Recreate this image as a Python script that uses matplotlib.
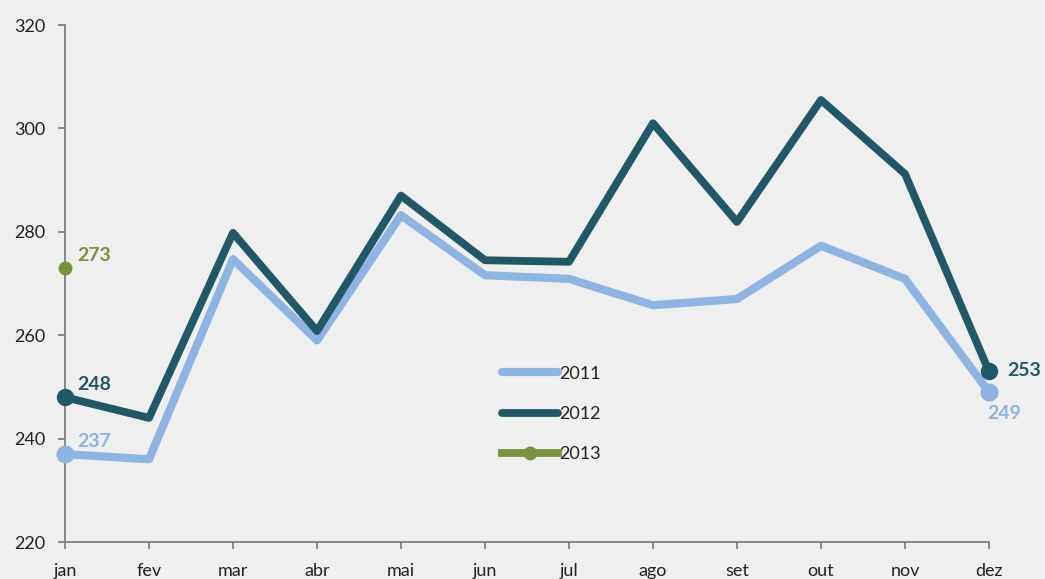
import numpy as np
import matplotlib.pyplot as plt

# --- data ---
months = ["jan", "fev", "mar", "abr", "mai", "jun", "jul", "ago", "set", "out", "nov", "dez"]
v2011 = [237, 236, 274.7, 259, 283.2, 271.6, 270.9, 265.8, 267, 277.3, 270.9, 249]
v2012 = [248, 244, 279.8, 260.8, 287, 274.5, 274.2, 301, 281.9, 305.5, 291.2, 253]
v2013 = [273]

c2011 = "#8DB4E2"
c2012 = "#215868"
c2013 = "#77933C"
bg = "#efefef"

plt.rcParams['font.family'] = ['Lato', 'DejaVu Sans']

fig = plt.figure(figsize=(10.45, 5.79), dpi=100, facecolor=bg)
ax = fig.add_axes([0.0622, 0.0639, 0.8842, 0.8929])
ax.set_facecolor(bg)

x = np.arange(len(months))

ax.plot(x, v2011, color=c2011, lw=5.9, solid_capstyle='round', solid_joinstyle='round',
        label="2011", zorder=3, clip_on=False)
ax.plot(x, v2012, color=c2012, lw=5.6, solid_capstyle='round', solid_joinstyle='round',
        label="2012", zorder=4, clip_on=False)
ax.plot(x[:len(v2013)], v2013, color=c2013, lw=5.6, marker='o', ms=9, label="2013",
        zorder=5, clip_on=False)

# end point markers
ax.plot([x[0], x[-1]], [v2011[0], v2011[-1]], 'o', color=c2011, ms=12, zorder=3, clip_on=False)
ax.plot([x[0], x[-1]], [v2012[0], v2012[-1]], 'o', color=c2012, ms=11.5, zorder=4, clip_on=False)

# data labels
lab = dict(fontsize=14, fontweight='bold')
ax.annotate(f"{v2011[0]:.0f}", (x[0], v2011[0]), xytext=(9, 3), textcoords='offset points',
            color=c2011, ha='left', va='bottom', **lab)
ax.annotate(f"{v2012[0]:.0f}", (x[0], v2012[0]), xytext=(9, 3), textcoords='offset points',
            color=c2012, ha='left', va='bottom', **lab)
ax.annotate(f"{v2013[0]:.0f}", (x[0], v2013[0]), xytext=(9, 3), textcoords='offset points',
            color=c2013, ha='left', va='bottom', **lab)
ax.annotate(f"{v2012[-1]:.0f}", (x[-1], v2012[-1]), xytext=(13, 1), textcoords='offset points',
            color=c2012, ha='left', va='center', **lab)
ax.annotate(f"{v2011[-1]:.0f}", (x[-1], v2011[-1]), xytext=(11, -9), textcoords='offset points',
            color=c2011, ha='center', va='top', **lab)

ax.set_xlim(0, len(months) - 1)
ax.set_ylim(220, 320)
ax.set_yticks(np.arange(220, 321, 20))
ax.set_xticks(x)
ax.set_xticklabels(months)

for s in ["top", "right"]:
    ax.spines[s].set_visible(False)
for s in ["left", "bottom"]:
    ax.spines[s].set_color("#808080")
    ax.spines[s].set_linewidth(1.3)
ax.tick_params(axis='both', colors="#808080", labelcolor="#222222", labelsize=13,
               length=5, width=1.3, direction='out')
ax.tick_params(axis='y', pad=9)
ax.tick_params(axis='x', pad=10)

leg = ax.legend(loc='upper left', bbox_to_anchor=(0.465, 0.355), frameon=False, fontsize=13,
                handlelength=3.1, handletextpad=0.1, labelspacing=1.35, borderaxespad=0)
for t in leg.get_texts():
    t.set_color("#222222")

fig.savefig("out.png", dpi=100, facecolor=bg)
